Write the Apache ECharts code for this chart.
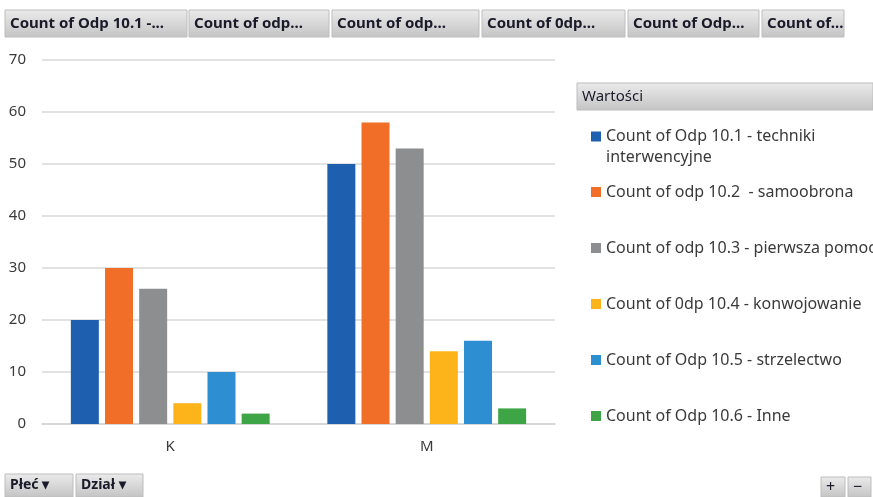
<!DOCTYPE html>
<html>
<head>
    <meta charset="utf-8" />
    <title>ECharts</title>
    <style>
        body { margin: 0; background: #fff; }
    </style>
</head>
<body>
<script src="https://cdn.jsdelivr.net/npm/echarts@6.0.0/dist/echarts.min.js"></script>
<div id="main" style="width: 873px;height:497px;"></div>
<script type="text/javascript">
    // dane z wykresu
    var categories = ['K', 'M'];
    var seriesNames = [
        'Count of Odp 10.1 - techniki interwencyjne',
        'Count of odp 10.2  - samoobrona',
        'Count of odp 10.3 - pierwsza pomoc',
        'Count of 0dp 10.4 - konwojowanie',
        'Count of Odp 10.5 - strzelectwo',
        'Count of Odp 10.6 - Inne'
    ];
    var odp1 = [20, 50];
    var odp2 = [30, 58];
    var odp3 = [26, 53];
    var odp4 = [4, 14];
    var odp5 = [10, 16];
    var odp6 = [2, 3];
    var headerLabels = ['Count of Odp 10.1 -...', 'Count of odp...', 'Count of odp...',
        'Count of 0dp...', 'Count of Odp...', 'Count of...'];
    var colors = ['#1F5FAF', '#F06E27', '#8C8E8F', '#FCB41A', '#2E8ED2', '#3DA546'];

    var myChart = echarts.init(document.getElementById('main'));

    var font = 'Noto Sans';
    var grad = new echarts.graphic.LinearGradient(0, 0, 0, 1, [
        { offset: 0, color: '#EBEBEB' },
        { offset: 1, color: '#C4C4C4' }
    ]);

    function button(x, y, w, h, text, fontSize, weight) {
        return {
            type: 'group',
            children: [
                { type: 'rect', shape: { x: x, y: y, width: w, height: h },
                  style: { fill: grad, stroke: '#BDBDBD', lineWidth: 1 } },
                { type: 'text', x: x + 5, y: y + h / 2,
                  style: { text: text, fill: '#1A1A2A',
                           font: (weight || 'bold') + ' ' + fontSize + 'px "' + font + '"',
                           verticalAlign: 'middle' } }
            ]
        };
    }

    // przyciski nagłówka
    var headerBoxes = [[5, 182], [189, 140], [332, 147], [482, 143], [628, 131], [762, 82]];
    var graphics = [];
    headerBoxes.forEach(function (b, i) {
        graphics.push(button(b[0], 10, b[1], 27, headerLabels[i], 15));
    });
    graphics.push(button(577, 83, 296, 27, 'Wartości', 15, 'normal'));
    graphics.push(button(5, 474, 68, 23, 'Płeć ▾', 14));
    graphics.push(button(76, 474, 67, 23, 'Dział ▾', 14));
    graphics.push(button(821, 477, 24, 20, '+', 16, 'normal'));
    graphics.push(button(848, 477, 23, 20, '−', 16, 'normal'));

    var data = [odp1, odp2, odp3, odp4, odp5, odp6];
    var legendCenters = [131, 187, 243, 299, 355, 411];

    var legends = seriesNames.map(function (name, i) {
        var multi = i === 0;
        return {
            data: [name],
            left: 586,
            top: multi ? legendCenters[i] - 31 : legendCenters[i] - 10,
            itemWidth: 10,
            itemHeight: 10,
            itemGap: 6,
            icon: 'rect',
            selectedMode: false,
            formatter: multi ? function () { return '\nCount of Odp 10.1 - techniki\ninterwencyjne'; } : '{name}',
            textStyle: {
                fontFamily: font,
                fontSize: 16,
                color: '#3A3A3A',
                lineHeight: multi ? 21 : 20
            }
        };
    });

    var option = {
        animation: false,
        color: colors,
        graphic: graphics,
        legend: legends,
        grid: { left: 42, right: 318, top: 60, bottom: 73 },
        xAxis: {
            type: 'category',
            data: categories,
            axisLine: { lineStyle: { color: '#D4D4D4', width: 1.5 } },
            axisTick: { show: false },
            axisLabel: { color: '#3A3A3A', fontFamily: font, fontSize: 15, margin: 15 }
        },
        yAxis: {
            type: 'value',
            min: 0,
            max: 70,
            interval: 10,
            axisLine: { show: false },
            axisTick: { show: false },
            splitLine: { lineStyle: { color: '#D9D9D9', width: 1.5 } },
            axisLabel: { color: '#3A3A3A', fontFamily: font, fontSize: 15, margin: 16 }
        },
        series: seriesNames.map(function (name, i) {
            return {
                name: name,
                type: 'bar',
                data: data[i],
                barWidth: 28,
                barGap: '22%'
            };
        })
    };

    myChart.setOption(option);
</script>
</body>
</html>
